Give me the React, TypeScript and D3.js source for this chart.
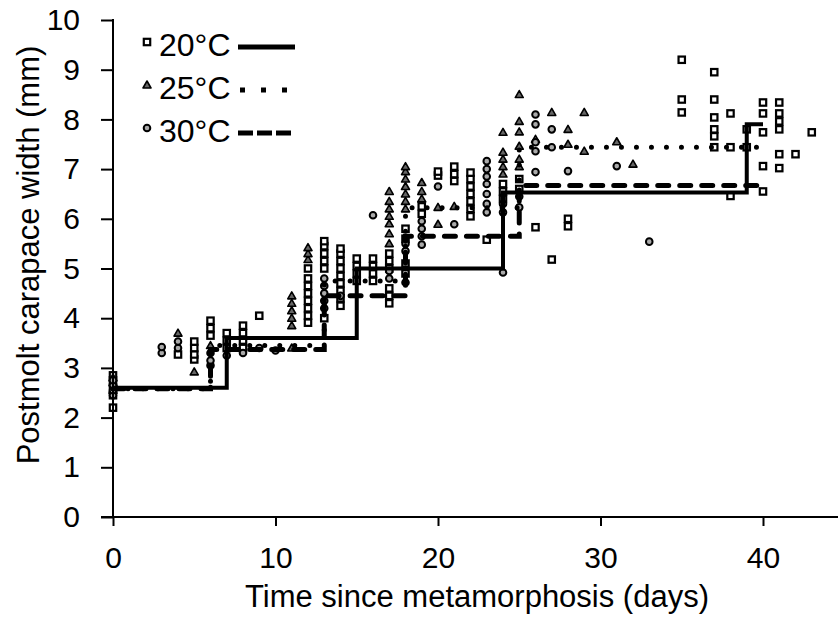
import React, { useEffect, useRef } from 'react';
import * as d3 from 'd3';

type Pt = [number, number];

const xTicks = [0, 10, 20, 30, 40];
const yTicks = [0, 1, 2, 3, 4, 5, 6, 7, 8, 9, 10];
const legendLabels = ['20°C', '25°C', '30°C'];

// measured postmolt widths, [day, mm]
const t20: Pt[] = [
	[0, 2.2], [0, 2.45], [0, 2.6], [0, 2.75], [0, 2.85],
	[4, 3.27],
	[5, 3.17], [5, 3.27], [5, 3.4], [5, 3.53],
	[6, 3.65], [6, 3.8], [6, 3.95],
	[7, 3.4], [7, 3.55], [7, 3.7],
	[8, 3.4], [8, 3.55], [8, 3.7], [8, 3.85],
	[9, 4.05],
	[12, 3.91], [12, 4.05], [12, 4.2], [12, 4.35], [12, 4.5], [12, 4.65], [12, 4.8], [12, 5.0],
	[13, 4.0], [13, 5.0], [13, 5.15], [13, 5.3], [13, 5.45], [13, 5.55],
	[14, 4.25], [14, 4.4], [14, 4.55], [14, 4.7], [14, 4.85], [14, 5.0], [14, 5.15], [14, 5.3], [14, 5.4],
	[15, 4.75], [15, 4.9], [15, 5.05], [15, 5.2],
	[16, 4.75], [16, 4.9], [16, 5.05], [16, 5.2],
	[17, 4.3], [17, 4.45], [17, 4.6], [17, 5.0], [17, 5.15], [17, 5.3],
	[18, 4.9], [18, 5.1], [18, 5.6], [18, 5.8],
	[19, 6.1], [19, 6.25],
	[20, 6.87], [20, 6.95],
	[21, 6.76], [21, 6.9], [21, 7.05],
	[22, 6.05], [22, 6.2], [22, 6.35], [22, 6.5], [22, 6.65], [22, 6.8], [22, 6.93],
	[23, 5.58],
	[24, 6.4], [24, 6.55], [24, 6.7],
	[25, 6.6], [25, 6.8],
	[26, 5.83],
	[27, 5.18],
	[28, 5.85], [28, 6.0],
	[35, 8.14], [35, 8.4], [35, 9.2],
	[37, 7.44], [37, 7.66], [37, 7.8], [37, 8.04], [37, 8.4], [37, 8.95],
	[38, 6.46], [38, 7.44], [38, 8.12],
	[39, 7.44], [39, 7.8],
	[40, 6.55], [40, 7.06], [40, 7.74], [40, 8.12], [40, 8.34],
	[41, 7.02], [41, 7.3], [41, 7.8], [41, 7.96], [41, 8.12], [41, 8.34],
	[42, 7.3],
	[43, 7.74]
];

const t25: Pt[] = [
	[0, 2.55], [0, 2.7], [0, 2.8],
	[4, 3.7],
	[5, 2.92],
	[6, 3.45],
	[11, 3.4], [11, 3.85], [11, 4.0], [11, 4.15], [11, 4.3], [11, 4.45],
	[12, 5.18], [12, 5.3], [12, 5.42],
	[17, 5.5], [17, 5.7], [17, 5.9], [17, 6.05], [17, 6.2], [17, 6.35], [17, 6.55],
	[18, 6.2], [18, 6.35], [18, 6.5], [18, 6.65], [18, 6.8], [18, 6.95], [18, 7.05],
	[19, 6.4], [19, 6.55], [19, 6.73],
	[20, 5.89], [20, 6.23],
	[21, 6.25],
	[24, 6.9], [24, 7.05], [24, 7.2], [24, 7.34], [24, 7.74],
	[25, 7.05], [25, 7.2], [25, 7.46], [25, 7.75], [25, 7.96], [25, 8.5],
	[26, 7.6],
	[27, 8.14],
	[28, 7.5], [28, 7.8],
	[29, 7.36], [29, 8.14],
	[31, 7.55],
	[32, 7.1]
];

const t30: Pt[] = [
	[0, 2.45], [0, 2.55], [0, 2.65], [0, 2.75],
	[3, 3.3], [3, 3.42],
	[4, 3.4], [4, 3.53],
	[6, 3.05], [6, 3.15], [6, 3.3],
	[7, 3.25],
	[8, 3.3],
	[9, 3.4],
	[10, 3.35],
	[13, 4.2], [13, 4.35], [13, 4.5], [13, 4.65], [13, 4.8],
	[14, 4.45],
	[16, 6.07],
	[17, 4.8], [17, 4.95],
	[18, 4.72], [18, 5.35], [18, 5.5],
	[19, 5.48], [19, 5.65], [19, 5.8], [19, 5.95],
	[20, 6.65],
	[21, 5.89],
	[23, 6.13], [23, 6.3], [23, 6.5], [23, 6.7], [23, 6.85], [23, 7.0], [23, 7.16],
	[24, 4.92], [24, 6.13], [24, 6.3],
	[25, 6.23], [25, 6.45],
	[26, 6.94], [26, 7.36], [26, 7.54], [26, 7.9], [26, 8.1],
	[27, 7.44], [27, 7.8],
	[28, 6.96],
	[31, 7.06],
	[33, 5.54]
];

// fitted step curves (mean width per instar)
const step20: Pt[] = [[0, 2.6], [7, 3.6], [15, 5.0], [24, 6.53], [39, 7.9], [40, 7.9]];
const step25: Pt[] = [[0, 2.58], [6, 3.45], [13, 4.75], [18, 6.22], [25, 7.44], [40, 7.44]];
const step30: Pt[] = [[0, 2.58], [6, 3.37], [13, 4.45], [18, 5.65], [25, 6.67], [40, 6.67]];

const W = 840;
const H = 620;
const font = '"Liberation Sans", Arial, sans-serif';

const x = d3.scaleLinear().domain([0, 40]).range([113, 763]);
const y = d3.scaleLinear().domain([0, 10]).range([517, 20]);

const stepLine = d3.line<Pt>()
	.x(d => x(d[0]))
	.y(d => y(d[1]))
	.curve(d3.curveStepAfter);

const lineStyles = [
	{ strokeWidth: 4, dash: null, cap: 'butt' },
	{ strokeWidth: 5, dash: '0 15', cap: 'round' },
	{ strokeWidth: 5, dash: '11 11', cap: 'round' }
];
const legendDash = [null, '5 16', '15 4'];

const triPath = 'M0,-4L4,3L-4,3Z';

function Marker({ kind, cx, cy }: { kind: number; cx: number; cy: number }) {
	if (kind === 0) {
		return <rect x={cx - 3.2} y={cy - 3.2} width={6.4} height={6.4} fill='#fff' stroke='#000' strokeWidth={2.2} />;
	}
	if (kind === 1) {
		return <path d={triPath} transform={`translate(${cx},${cy})`} fill='#666' stroke='#000' strokeWidth={1.6} strokeLinejoin='round' />;
	}
	return <circle cx={cx} cy={cy} r={3.3} fill='#aaa' stroke='#000' strokeWidth={2} />;
}

export default function App() {
	const xAxisRef = useRef<SVGGElement>(null);
	const yAxisRef = useRef<SVGGElement>(null);

	useEffect(() => {
		const ax = d3.axisBottom(x).tickValues(xTicks).tickSize(9).tickPadding(21).tickFormat(d3.format('d'));
		const ay = d3.axisLeft(y).tickValues(yTicks).tickSize(12).tickPadding(21).tickFormat(d3.format('d'));

		const gx = d3.select(xAxisRef.current!).call(ax);
		gx.select('.domain').remove();
		gx.selectAll('line').attr('stroke', '#000').attr('stroke-width', 2);
		gx.selectAll('text').attr('fill', '#000').style('font-family', font).style('font-size', '30px');

		const gy = d3.select(yAxisRef.current!).call(ay);
		gy.select('.domain').remove();
		gy.selectAll('line').attr('stroke', '#000').attr('stroke-width', 2);
		gy.selectAll('text').attr('fill', '#000').style('font-family', font).style('font-size', '30px');
	}, []);

	const series = [t20, t25, t30];
	const steps = [step20, step25, step30];

	return (
		<svg width={W} height={H} style={{ position: 'absolute', left: 0, top: 0, background: '#fff' }}>
			<g className='points'>
				{series.map((pts, k) =>
					pts.map((d, i) => <Marker key={`${k}-${i}`} kind={k} cx={x(d[0])} cy={y(d[1])} />)
				)}
			</g>
			<g className='steps'>
				{steps.map((s, k) => (
					<path
						key={k}
						d={stepLine(s) || ''}
						fill='none'
						stroke='#000'
						strokeWidth={lineStyles[k].strokeWidth}
						strokeDasharray={lineStyles[k].dash || undefined}
						strokeLinecap={lineStyles[k].cap as any}
					/>
				))}
			</g>

			<g ref={xAxisRef} transform={`translate(0,${y(0)})`} />
			<g ref={yAxisRef} transform={`translate(${x(0)},0)`} />
			<line x1={x(0)} x2={x(0)} y1={y(10) - 1} y2={y(0) + 1} stroke='#000' strokeWidth={2} />
			<line x1={x(0) - 12} x2={838} y1={y(0)} y2={y(0)} stroke='#000' strokeWidth={2} />

			<g className='legend'>
				{legendLabels.map((lab, k) => {
					const cy = 44 + k * 43;
					return (
						<g key={lab}>
							<Marker kind={k} cx={147} cy={cy - 2} />
							<text x={159} y={cy} dy='0.36em' fontFamily={font} fontSize={32} fill='#000'>{lab}</text>
							<line
								x1={k === 1 ? 240 : 238}
								x2={295}
								y1={cy + 3}
								y2={cy + 3}
								stroke='#000'
								strokeWidth={5}
								strokeDasharray={legendDash[k] || undefined}
							/>
						</g>
					);
				})}
			</g>

			<text x={477} y={596} dy='0.36em' textAnchor='middle' fontFamily={font} fontSize={31} fill='#000'>
				Time since metamorphosis (days)
			</text>
			<text
				transform={`translate(28,255) rotate(-90)`}
				dy='0.36em'
				textAnchor='middle'
				fontFamily={font}
				fontSize={31}
				fill='#000'
			>
				Postmolt carapace width (mm)
			</text>
		</svg>
	);
}
